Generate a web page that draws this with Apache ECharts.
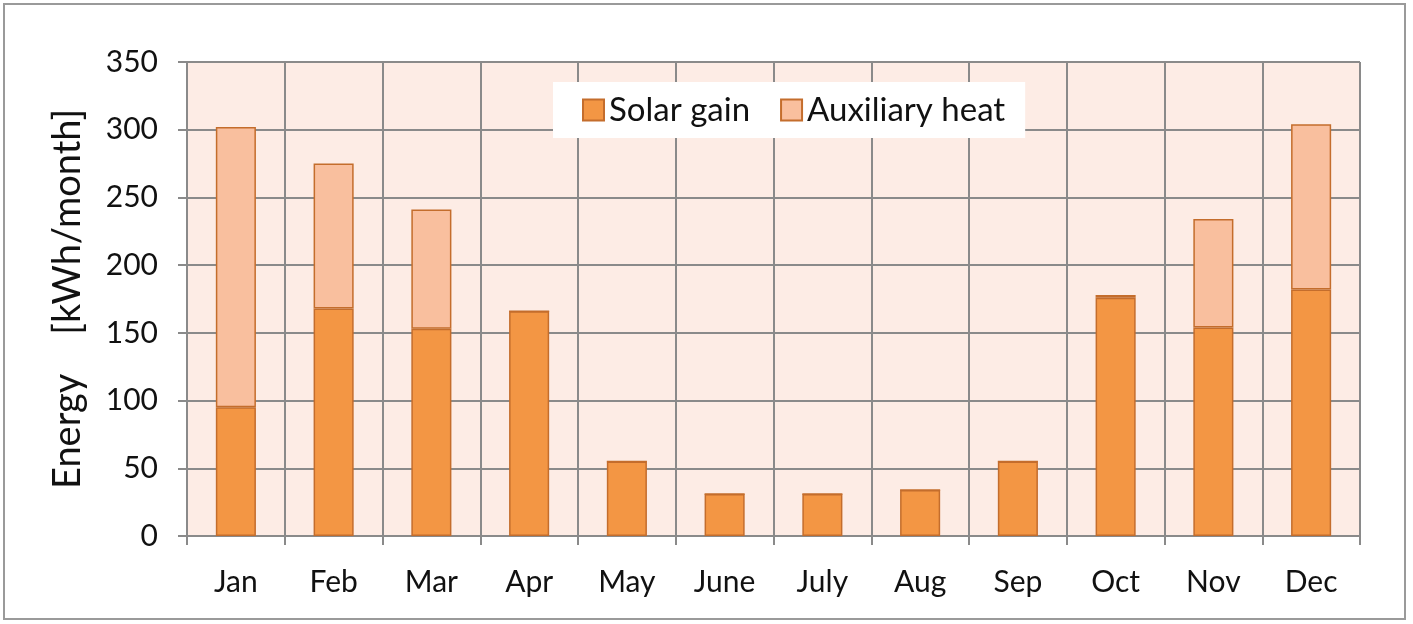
<!DOCTYPE html>
<html><head><meta charset="utf-8">
<script src="https://cdn.jsdelivr.net/npm/echarts@6/dist/echarts.min.js"></script>
<style>html,body{margin:0;padding:0;background:#fff}#c{width:1413px;height:624px}</style>
</head><body><div id="c"></div>
<script>
const months = ['Jan','Feb','Mar','Apr','May','June','July','Aug','Sep','Oct','Nov','Dec'];
const solarGain = [95,168,153,166,55,31,31,34,55,176,154,182];
const auxiliaryHeat = [207,107,88,0,0,0,0,0,0,2,80,122];
const yTicks = {min:0, max:350, interval:50};

const chart = echarts.init(document.getElementById('c'));
const FONT = 'Lato';
chart.setOption({
  animation:false,
  backgroundColor:'#fff',
  graphic:[{type:'rect',shape:{x:4,y:4,width:1401,height:615},style:{fill:'none',stroke:'#9a9a9a',lineWidth:2},silent:true}],
  grid:{left:187,right:53,top:62,bottom:88,show:true,backgroundColor:'#fdece5',borderWidth:0},
  legend:{
    left:553, top:82, backgroundColor:'#fff', padding:[8,20,8,29],
    itemWidth:21,itemHeight:21,itemGap:30,
    icon:'rect',
    textStyle:{fontFamily:FONT,fontSize:33,color:'#111',lineHeight:40},
    data:['Solar gain','Auxiliary heat']
  },
  xAxis:{
    type:'category', data:months, boundaryGap:true,
    axisLine:{lineStyle:{color:'#8a8a8a',width:2}},
    axisTick:{show:true,length:9,lineStyle:{color:'#8a8a8a',width:2}},
    splitLine:{show:true,lineStyle:{color:'#8a8a8a',width:2}},
    axisLabel:{fontFamily:FONT,fontSize:30,color:'#111',margin:31}
  },
  yAxis:{
    type:'value', min:yTicks.min, max:yTicks.max, interval:yTicks.interval,
    name:'Energy    [kWh/month]', nameLocation:'middle', nameGap:100,
    nameTextStyle:{fontFamily:FONT,fontSize:38,color:'#111'},
    axisLine:{show:true,lineStyle:{color:'#8a8a8a',width:2}},
    axisTick:{show:true,length:9,lineStyle:{color:'#8a8a8a',width:2}},
    splitLine:{show:true,lineStyle:{color:'#8a8a8a',width:2}},
    axisLabel:{fontFamily:FONT,fontSize:30,color:'#111',margin:29}
  },
  series:[
    {name:'Solar gain',type:'bar',stack:'e',data:solarGain,barWidth:'41%',
     itemStyle:{color:'#f39644',borderColor:'#c46d2c',borderWidth:1.5}},
    {name:'Auxiliary heat',type:'bar',stack:'e',data:auxiliaryHeat,barWidth:'41%',
     itemStyle:{color:'#f9bf9e',borderColor:'#c46d2c',borderWidth:1.5}}
  ]
});
</script></body></html>
